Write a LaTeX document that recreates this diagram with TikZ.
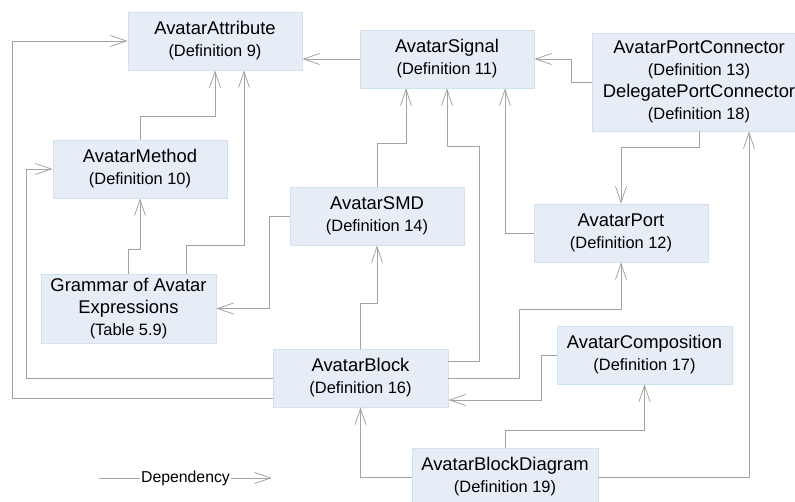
\documentclass[tikz,border=0pt]{standalone}
\usepackage{fontspec}
\setmainfont{Liberation Sans}
\usetikzlibrary{arrows.meta,positioning}
\definecolor{boxfill}{HTML}{E6EDF7}
\definecolor{boxline}{HTML}{CFE2EE}
\definecolor{depline}{HTML}{A3A3A3}
\newcommand\dfnfont{\fontsize{16.4}{22}\selectfont}

\begin{document}
\begin{tikzpicture}[x=1pt,y=-1pt,
        defbox/.style={draw=boxline,fill=boxfill,line width=0.8pt,inner sep=0pt,
            minimum width=174pt,minimum height=58pt,align=center,
            font=\fontsize{18.4}{22}\selectfont},
        dep/.style={draw=depline,line width=0.9pt,-{Straight Barb[length=16pt,width=11pt,line width=0.8pt]}},
        legend/.style={fill=white,inner sep=1pt,font=\fontsize{15.8}{18}\selectfont}]
    \clip (0,0) rectangle (795,502);

    % the definitions
    \node[defbox] (attr) at (215,41) {AvatarAttribute\\{\dfnfont (Definition 9)}};
    \node[defbox] (signal) at (447,59) {AvatarSignal\\{\dfnfont (Definition 11)}};
    \node[defbox,minimum width=214pt,minimum height=98pt] (portconn) at (699,82)
        {AvatarPortConnector\\{\dfnfont (Definition 13)}\\DelegatePortConnector\\{\dfnfont (Definition 18)}};
    \node[defbox] (method) at (140,169) {AvatarMethod\\{\dfnfont (Definition 10)}};
    \node[defbox] (smd) at (377,216) {AvatarSMD\\{\dfnfont (Definition 14)}};
    \node[defbox] (port) at (621,233) {AvatarPort\\{\dfnfont (Definition 12)}};
    \node[defbox,minimum width=175pt,minimum height=69pt] (grammar) at (128.5,308.5)
        {Grammar of Avatar\\Expressions\\{\dfnfont (Table 5.9)}};
    \node[defbox,minimum width=175pt] (block) at (360.5,378) {AvatarBlock\\{\dfnfont (Definition 16)}};
    \node[defbox,minimum width=175pt] (comp) at (644.5,355) {AvatarComposition\\{\dfnfont (Definition 17)}};
    \node[defbox,minimum width=186pt] (bdiag) at (505,477) {AvatarBlockDiagram\\{\dfnfont (Definition 19)}};

    % dependencies
    \draw[dep] (signal.west) -- (signal.west -| attr.east);
    \draw[dep] ([yshift=-20pt]block.west) -| (12,41) -- (attr.west);
    \draw[dep] (block.west) -| (26,169) -- (method.west);
    \draw[dep] (method.north) |- (215,116) -- (attr.south);
    \draw[dep] ([xshift=-0.5pt]grammar.north) |- (140,249) -- (method.south);
    \draw[dep] ([xshift=57.5pt]grammar.north) |- (244,245) -- ([xshift=29pt]attr.south);
    \draw[dep] (smd.west) -| (269,308.5) -- (grammar.east);
    \draw[dep] (smd.north) |- (406,143) -- ([xshift=-41pt]signal.south);
    \draw[dep] (block.north) |- (377,303) -- (smd.south);
    \draw[dep] ([yshift=17pt]block.east) -| (479,146) -| (signal.south);
    \draw[dep] (port.west) -| ([xshift=58pt]signal.south);
    \draw[dep] (portconn.west) -| (571,59) -- (signal.east);
    \draw[dep] (portconn.south) |- (621,147) -- (port.north);
    \draw[dep] (block.east) -| (519,309) -| (port.south);
    \draw[dep] (comp.west) -| (541,400) -- ([yshift=-22pt]block.east);
    \draw[dep] (bdiag.north) |- (644.5,430) -- (comp.south);
    \draw[dep] (bdiag.east) -| ([xshift=50pt]portconn.south);
    \draw[dep] (bdiag.west) -| (block.south);

    % legend
    \coordinate (legL) at (99,478);
    \coordinate (legR) at (272,478);
    \draw[dep] (legL) -- node[legend] (leg) {Dependency} (legR);
\end{tikzpicture}
\end{document}
